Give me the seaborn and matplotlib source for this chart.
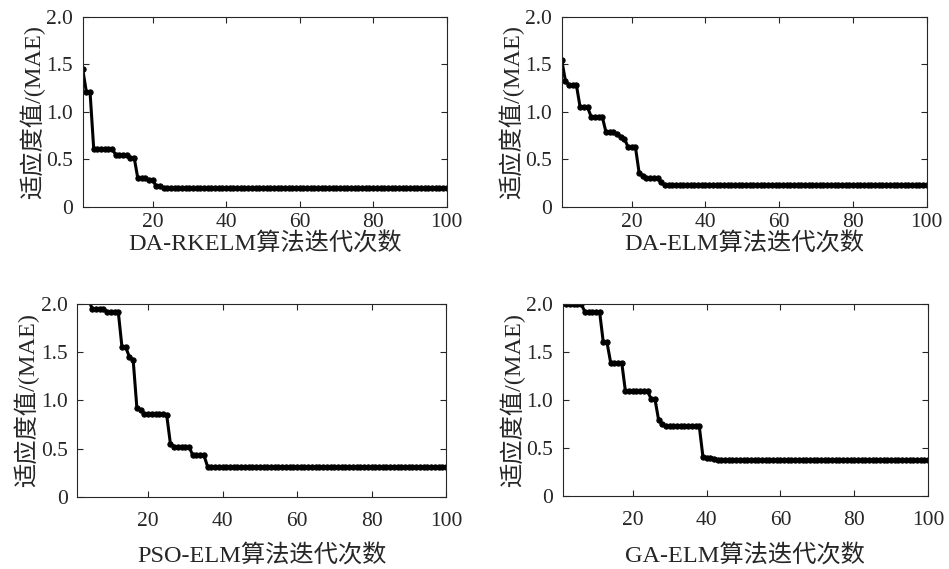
import numpy as np
import pandas as pd
import seaborn as sns
import matplotlib.pyplot as plt

# step curves: (last iteration of step, value)
da_rkelm_steps = [(1, 1.45), (3, 1.21), (9, 0.61), (13, 0.55), (15, 0.52),
                  (18, 0.30), (20, 0.28), (22, 0.22), (100, 0.20)]
da_elm_steps = [(1, 1.55), (2, 1.33), (5, 1.28), (8, 1.05), (12, 0.95),
                (15, 0.79), (16, 0.77), (17, 0.74), (18, 0.72), (21, 0.63),
                (22, 0.36), (23, 0.33), (27, 0.30), (28, 0.26), (100, 0.23)]
pso_elm_steps = [(4, 2.05), (8, 1.95), (12, 1.92), (14, 1.55), (15, 1.45),
                 (16, 1.42), (17, 0.92), (18, 0.90), (24, 0.86), (25, 0.85),
                 (26, 0.55), (31, 0.52), (35, 0.43), (100, 0.31)]
ga_elm_steps = [(1, 2.10), (6, 2.00), (11, 1.92), (13, 1.60), (17, 1.39),
                (24, 1.09), (26, 1.01), (27, 0.79), (28, 0.75), (38, 0.73),
                (39, 0.41), (41, 0.40), (42, 0.39), (100, 0.38)]

titles = ["DA-RKELM算法迭代次数", "DA-ELM算法迭代次数",
          "PSO-ELM算法迭代次数", "GA-ELM算法迭代次数"]
ylabel = "适应度值/(MAE)"


def expand(steps):
    vals = []
    prev = 0
    for end, v in steps:
        vals += [v] * (end - prev)
        prev = end
    return pd.DataFrame({"iter": np.arange(1, prev + 1), "fit": vals})


sns.set_style("ticks")
plt.rcParams["font.family"] = ["Liberation Serif", "Noto Sans CJK SC"]
plt.rcParams["axes.unicode_minus"] = False

W, H = 949, 569
# axes boxes in pixels: left, top, right, bottom
boxes = [(82.7, 17, 446.7, 207), (561.7, 17, 926.7, 207),
         (77.3, 304, 446, 496.7), (562.7, 304, 928, 496)]
xpads = [(4, 1), (4, 1), (11, 10), (11, 10)]

fig = plt.figure(figsize=(W / 100, H / 100), dpi=100)
curves = [da_rkelm_steps, da_elm_steps, pso_elm_steps, ga_elm_steps]
for box, steps, title, (tp, lp) in zip(boxes, curves, titles, xpads):
    l, t, r, b = box
    ax = fig.add_axes([l / W, 1 - b / H, (r - l) / W, (b - t) / H])
    df = expand(steps)
    sns.lineplot(data=df, x="iter", y="fit", ax=ax, color="black",
                 linewidth=2.2, marker="o", markersize=3.8,
                 markeredgecolor="black")
    ax.set_xlim(1, 100)
    ax.set_ylim(0, 2.0)
    ax.set_xticks([20, 40, 60, 80, 100])
    ax.set_yticks([0, 0.5, 1.0, 1.5, 2.0])
    ax.set_yticklabels(["0", "0.5", "1.0", "1.5", "2.0"])
    ax.tick_params(direction="in", top=True, right=True, labelsize=15.5,
                   length=4, width=0.8)
    ax.tick_params(axis="x", pad=tp)
    ax.tick_params(axis="y", pad=7)
    ax.set_xlabel(title, fontsize=17.5, labelpad=lp)
    ax.set_ylabel(ylabel, fontsize=17.5, labelpad=1)
    for sp in ax.spines.values():
        sp.set_linewidth(0.8)

fig.savefig("out.png", dpi=100)
